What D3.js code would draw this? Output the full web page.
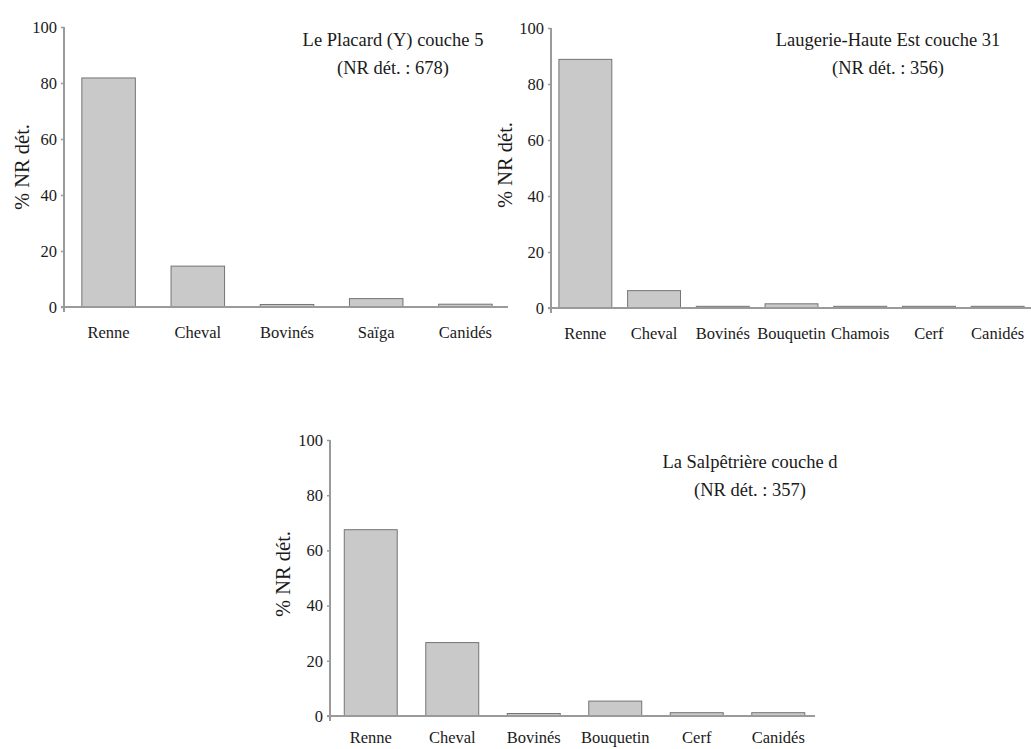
<!DOCTYPE html>
<html>
<head>
<meta charset="utf-8">
<script src="https://cdn.jsdelivr.net/npm/d3@7"></script>
<style>
  html, body { margin: 0; padding: 0; background: #fff; }
  svg { display: block; }
  svg text { font-family: "Liberation Serif", "Times New Roman", serif; }
</style>
</head>
<body>
<svg id="chart" width="1031" height="749"></svg>
<script>
// ---- Data ----
const yTicks = [0, 20, 40, 60, 80, 100];
const yLabel = "% NR dét.";

const placardTitle = ["Le Placard (Y) couche 5", "(NR dét. : 678)"];
const placardCategories = ["Renne", "Cheval", "Bovinés", "Saïga", "Canidés"];
const placardValues = [81.8, 14.6, 0.9, 3.0, 1.0];

const laugerieTitle = ["Laugerie-Haute Est couche 31", "(NR dét. : 356)"];
const laugerieCategories = ["Renne", "Cheval", "Bovinés", "Bouquetin", "Chamois", "Cerf", "Canidés"];
const laugerieValues = [88.8, 6.2, 0.6, 1.5, 0.6, 0.6, 0.6];

const salpetriereTitle = ["La Salpêtrière couche d", "(NR dét. : 357)"];
const salpetriereCategories = ["Renne", "Cheval", "Bovinés", "Bouquetin", "Cerf", "Canidés"];
const salpetriereValues = [67.5, 26.6, 0.9, 5.4, 1.2, 1.2];

// ---- Drawing ----
const svg = d3.select("#chart");

function drawChart(opts) {
  const { categories, values, title, x0, x1, y0, y100, pad, titleX, titleY, labelX, labelY, catY, axisEnd } = opts;
  const g = svg.append("g").attr("fill", "#1a1a1a");
  const x = d3.scaleBand().domain(categories).range([x0, x1]).paddingInner(pad).paddingOuter(pad / 2);
  const y = d3.scaleLinear().domain([0, 100]).range([y0, y100]);

  g.selectAll("rect.bar").data(categories).join("rect")
    .attr("class", "bar")
    .attr("x", d => x(d))
    .attr("width", x.bandwidth())
    .attr("y", (d, i) => y(values[i]))
    .attr("height", (d, i) => y(0) - y(values[i]))
    .attr("fill", "#c9c9c9")
    .attr("stroke", "#747474")
    .attr("stroke-width", 1);

  const yAxis = d3.axisLeft(y).tickValues(yTicks).tickSize(3).tickPadding(4).tickFormat(d3.format("d"));
  const ya = g.append("g").attr("transform", `translate(${x0},0)`).call(yAxis);
  ya.attr("font-family", null).attr("font-size", 16.5);
  ya.select(".domain").remove();
  ya.append("line").attr("x1", 0).attr("x2", 0).attr("y1", y(100)).attr("y2", y(0) + 5)
    .attr("stroke", "#9a9a9a").attr("stroke-width", 2);
  ya.selectAll(".tick line").attr("stroke", "#9a9a9a").attr("stroke-width", 1.5);
  ya.selectAll(".tick text").attr("fill", "#1a1a1a");

  g.append("line").attr("x1", x0 - 3).attr("x2", axisEnd).attr("y1", y(0)).attr("y2", y(0))
    .attr("stroke", "#9a9a9a").attr("stroke-width", 2);

  g.selectAll("text.cat").data(categories).join("text")
    .attr("class", "cat")
    .attr("x", d => x(d) + x.bandwidth() / 2)
    .attr("y", catY)
    .attr("text-anchor", "middle")
    .attr("font-size", 16.5)
    .text(d => d);

  g.append("text")
    .attr("transform", `translate(${labelX},${labelY}) rotate(-90)`)
    .attr("text-anchor", "middle")
    .attr("font-size", 20.5)
    .text(yLabel);

  g.selectAll("text.title").data(title).join("text")
    .attr("class", "title")
    .attr("x", titleX)
    .attr("y", (d, i) => titleY + i * 28)
    .attr("text-anchor", "middle")
    .attr("font-size", 18.5)
    .text(d => d);
}

drawChart({
  categories: placardCategories, values: placardValues, title: placardTitle,
  x0: 64, x1: 510, y0: 307, y100: 27, pad: 0.40,
  titleX: 393, titleY: 46, labelX: 29, labelY: 167, catY: 338, axisEnd: 508
});

drawChart({
  categories: laugerieCategories, values: laugerieValues, title: laugerieTitle,
  x0: 551, x1: 1032, y0: 308, y100: 28, pad: 0.23,
  titleX: 888, titleY: 46, labelX: 512, labelY: 165, catY: 339, axisEnd: 1031
});

drawChart({
  categories: salpetriereCategories, values: salpetriereValues, title: salpetriereTitle,
  x0: 330, x1: 819, y0: 716, y100: 440, pad: 0.35,
  titleX: 750, titleY: 468, labelX: 290, labelY: 574, catY: 743, axisEnd: 815
});
</script>
</body>
</html>
